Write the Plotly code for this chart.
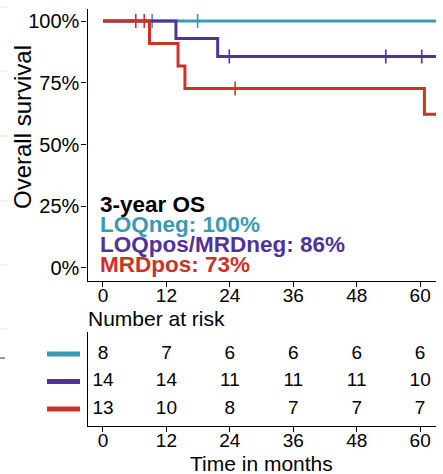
import plotly.graph_objects as go

W, H = 443, 474

# ---- data ----
groups = ["LOQneg", "LOQpos/MRDneg", "MRDpos"]
colors = ["#3B9AB2", "#52329A", "#CB3229"]

# step curves (time in months, survival proportion)
loqneg_t = [0, 63.5]
loqneg_s = [1.0, 1.0]
loqneg_cens_t = [9.3, 17.9]
loqneg_cens_s = [1.0, 1.0]

loqpos_t = [0, 13.8, 21.7, 63.5]
loqpos_s = [1.0, 0.929, 0.857, 0.857]
loqpos_cens_t = [23.9, 53.5, 60.3]
loqpos_cens_s = [0.857, 0.857, 0.857]

mrdpos_t = [0, 8.8, 14.2, 15.5, 60.8, 63.5]
mrdpos_s = [1.0, 0.909, 0.818, 0.727, 0.623, 0.623]
mrdpos_cens_t = [6.2, 7.8, 25.0]
mrdpos_cens_s = [1.0, 1.0, 0.727]

risk_times = [0, 12, 24, 36, 48, 60]
risk_loqneg = [8, 7, 6, 6, 6, 6]
risk_loqpos = [14, 14, 11, 11, 11, 10]
risk_mrdpos = [13, 10, 8, 7, 7, 7]

os3_labels = ["LOQneg: 100%", "LOQpos/MRDneg: 86%", "MRDpos: 73%"]

x_ticks = [0, 12, 24, 36, 48, 60]
y_ticks = [0, 0.25, 0.5, 0.75, 1.0]
y_ticklabels = ["0%", "25%", "50%", "75%", "100%"]

FONT = "Liberation Sans, Arial, Helvetica, sans-serif"

def px_x(p):
    return p / W

def px_y(p):
    return 1 - p / H

fig = go.Figure()

curves = [
    (loqneg_t, loqneg_s, loqneg_cens_t, loqneg_cens_s),
    (loqpos_t, loqpos_s, loqpos_cens_t, loqpos_cens_s),
    (mrdpos_t, mrdpos_s, mrdpos_cens_t, mrdpos_cens_s),
]
for (t, s, ct, cs), c, g in zip(curves, colors, groups):
    fig.add_trace(go.Scatter(x=t, y=s, mode="lines", line=dict(color=c, width=3, shape="hv"),
                             name=g, showlegend=False, xaxis="x", yaxis="y", cliponaxis=True))
    fig.add_trace(go.Scatter(x=ct, y=cs, mode="markers",
                             marker=dict(symbol="line-ns", size=10, color=c,
                                         line=dict(color=c, width=1.6)),
                             showlegend=False, xaxis="x", yaxis="y"))

# risk table
risk_rows = [risk_loqneg, risk_loqpos, risk_mrdpos]
row_pos = [3, 2, 1]
for vals, yp in zip(risk_rows, row_pos):
    fig.add_trace(go.Scatter(x=risk_times, y=[yp] * len(risk_times), mode="text",
                             text=[str(v) for v in vals],
                             textfont=dict(family=FONT, size=19, color="black"),
                             showlegend=False, xaxis="x2", yaxis="y2", cliponaxis=False))

xdom = [px_x(87.5), px_x(436)]
xrange = [-2.93, 63.0]

xaxis_common = dict(domain=xdom, range=xrange, tickvals=x_ticks, ticks="outside", ticklen=5,
                    tickwidth=1.2, tickcolor="black", showline=True, linecolor="black",
                    linewidth=1.2, showgrid=False, zeroline=False, ticklabelstandoff=-8,
                    tickfont=dict(size=19, family=FONT, color="black"))

fig.update_layout(
    width=W, height=H,
    margin=dict(l=0, r=0, t=0, b=0),
    paper_bgcolor="white", plot_bgcolor="white",
    font=dict(family=FONT, color="black"),
    xaxis=dict(**xaxis_common, anchor="y"),
    yaxis=dict(domain=[px_y(281), px_y(9)], range=[-0.053, 1.049], tickvals=y_ticks,
               ticktext=y_ticklabels, ticks="outside", ticklen=5, tickwidth=1.2, tickcolor="black",
               showline=True, linecolor="black", linewidth=1.2, showgrid=False, zeroline=False,
               ticklabelstandoff=-2,
               tickfont=dict(size=20, family=FONT, color="black"), anchor="x"),
    xaxis2=dict(**xaxis_common, anchor="y2"),
    yaxis2=dict(domain=[px_y(426), px_y(332)], range=[0.38, 3.8], showticklabels=False,
                ticks="", showline=True, linecolor="black", linewidth=1.2, showgrid=False,
                zeroline=False, anchor="x2"),
)

annotations = [
    dict(text="Overall survival", x=px_x(23), y=px_y(127), xref="paper", yref="paper",
         textangle=-90, showarrow=False, font=dict(size=24, family=FONT, color="black"),
         xanchor="center", yanchor="middle"),
    dict(text="Number at risk", x=px_x(86), y=px_y(318), xref="paper", yref="paper",
         showarrow=False, font=dict(size=21, family=FONT, color="black"),
         xanchor="left", yanchor="middle"),
    dict(text="Time in months", x=px_x(261), y=px_y(463), xref="paper", yref="paper",
         showarrow=False, font=dict(size=21, family=FONT, color="black"),
         xanchor="center", yanchor="middle"),
    dict(text="<b>3-year OS</b>", x=px_x(98), y=px_y(204), xref="paper", yref="paper",
         showarrow=False, font=dict(size=22.5, family=FONT, color="black"),
         xanchor="left", yanchor="middle"),
]
for i, (lab, c) in enumerate(zip(os3_labels, colors)):
    annotations.append(dict(text="<b>" + lab + "</b>", x=px_x(98), y=px_y(224 + 20 * i),
                            xref="paper", yref="paper", showarrow=False,
                            font=dict(size=22.5, family=FONT, color=c),
                            xanchor="left", yanchor="middle"))
fig.update_layout(annotations=annotations)

shapes = []
# legend colour keys for risk table rows
for yp, c in zip(row_pos, colors):
    shapes.append(dict(type="line", xref="paper", yref="y2", x0=px_x(47), x1=px_x(80),
                       y0=yp, y1=yp, line=dict(color=c, width=5)))
# faint remnants of neighbouring panel at left edge
for yy in [7, 71, 136, 201, 265, 329]:
    shapes.append(dict(type="line", xref="paper", yref="paper", x0=0, x1=px_x(8),
                       y0=px_y(yy), y1=px_y(yy), line=dict(color="#e3e3e3", width=1)))
shapes.append(dict(type="line", xref="paper", yref="paper", x0=0, x1=px_x(5),
                   y0=px_y(358), y1=px_y(358), line=dict(color="#333333", width=1)))
fig.update_layout(shapes=shapes)

fig.write_html("out.html", config={"displayModeBar": False},
               post_script="document.body.style.margin='0';document.body.style.overflow='hidden';")
